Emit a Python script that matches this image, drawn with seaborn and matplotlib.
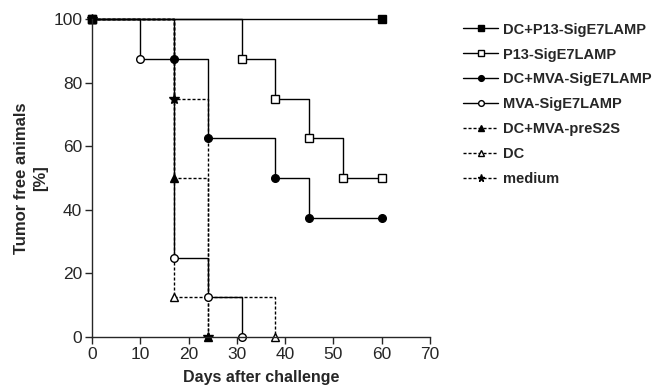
import matplotlib
matplotlib.use('Agg')
import matplotlib.pyplot as plt
import seaborn as sns
import pandas as pd

# Kaplan-Meier style tumor free curves (days, % tumor free)
dc_p13_days = [0, 60]
dc_p13_pct = [100, 100]

p13_days = [0, 31, 38, 45, 52, 60]
p13_pct = [100, 87.5, 75, 62.5, 50, 50]

dc_mva_days = [0, 17, 24, 38, 45, 60]
dc_mva_pct = [100, 87.5, 62.5, 50, 37.5, 37.5]

mva_days = [0, 10, 17, 24, 31]
mva_pct = [100, 87.5, 25, 12.5, 0]

dc_pres2s_days = [0, 17, 24]
dc_pres2s_pct = [100, 50, 0]

dc_days = [0, 17, 38]
dc_pct = [100, 12.5, 0]

medium_days = [0, 17, 24]
medium_pct = [100, 75, 0]

dotted = (0, (2.2, 1.4))
series = [
    ("DC+P13-SigE7LAMP", dc_p13_days, dc_p13_pct, '-', 's', 'black'),
    ("P13-SigE7LAMP", p13_days, p13_pct, '-', 's', 'white'),
    ("DC+MVA-SigE7LAMP", dc_mva_days, dc_mva_pct, '-', 'o', 'black'),
    ("MVA-SigE7LAMP", mva_days, mva_pct, '-', 'o', 'white'),
    ("DC+MVA-preS2S", dc_pres2s_days, dc_pres2s_pct, dotted, '^', 'black'),
    ("DC", dc_days, dc_pct, dotted, '^', 'white'),
    ("medium", medium_days, medium_pct, dotted, '*', 'black'),
]

sns.set_style('ticks')
plt.rcParams['font.family'] = ['Liberation Sans', 'DejaVu Sans']

fig = plt.figure(figsize=(6.63, 3.9), dpi=100)
ax = fig.add_axes([92 / 663, 53 / 390, 338 / 663, 318 / 390])

# draw in reverse so the filled square series ends on top
for name, days, pct, ls, mk, fc in reversed(series):
    df = pd.DataFrame({'day': days, 'pct': pct})
    sns.lineplot(data=df, x='day', y='pct', ax=ax, color='black', lw=1.0,
                 linestyle=ls, drawstyle='steps-post', marker=mk,
                 markerfacecolor=fc, markeredgecolor='black',
                 markersize=5.5 if mk != '*' else 7, markeredgewidth=1.0,
                 clip_on=False, label=name, estimator=None, sort=False)

ax.set_xlim(0, 70)
ax.set_ylim(0, 100)
ax.set_xticks(range(0, 71, 10))
ax.set_yticks(range(0, 101, 20))
sns.despine(ax=ax)
ax.spines['left'].set_linewidth(1.0)
ax.spines['bottom'].set_linewidth(1.0)
ax.tick_params(axis='both', direction='out', length=5, width=1.0, labelsize=12.5,
               pad=2)
ax.set_xlabel('Days after challenge', fontsize=11.5, fontweight='bold', labelpad=6)
ax.set_ylabel('Tumor free animals\n[%]', fontsize=12, fontweight='bold', labelpad=4,
              linespacing=1.3)

handles, labels = ax.get_legend_handles_labels()
order = [labels.index(s[0]) for s in series]
leg = ax.legend([handles[i] for i in order], [labels[i] for i in order],
                loc='upper left', bbox_to_anchor=(1.06, 1.03), frameon=False,
                prop={'weight': 'bold', 'size': 10.5}, handlelength=2.4,
                handletextpad=0.3, labelspacing=0.75, markerscale=0.75)

fig.savefig('out.png', dpi=100)
